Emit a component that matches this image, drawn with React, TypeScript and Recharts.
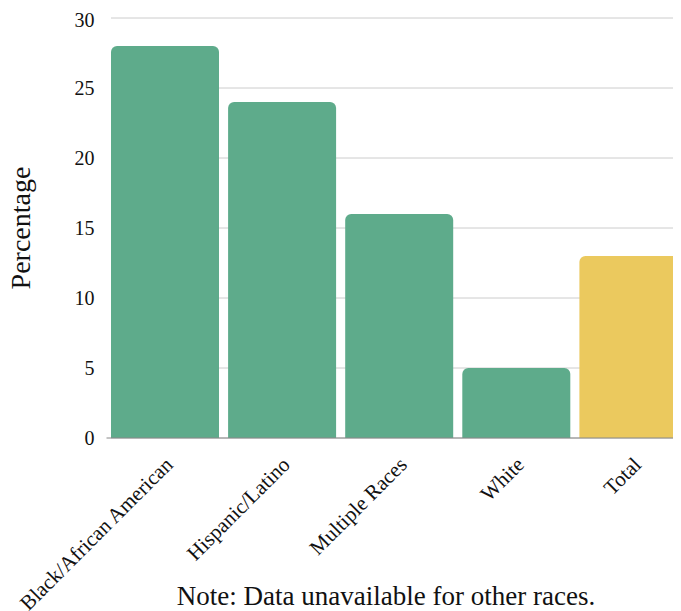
import { BarChart, Bar, XAxis, YAxis, CartesianGrid, Cell } from 'recharts';

const categories = ['Black/African American', 'Hispanic/Latino', 'Multiple Races', 'White', 'Total'];
const percentages = [28, 24, 16, 5, 13];
const yTicks = [0, 5, 10, 15, 20, 25, 30];

const data = categories.map((name, i) => ({ name, value: percentages[i] }));

const FONT = '"Liberation Serif", "DejaVu Serif", serif';
const GREEN = '#5eab8b';
const YELLOW = '#ebc95e';

function SlantTick(props: any) {
  const { x, y, payload } = props;
  const tx = x + 9;
  const ty = y + 20;
  return (
    <text
      x={tx}
      y={ty}
      transform={`rotate(-45 ${tx} ${ty})`}
      textAnchor="end"
      fill="#111"
      fontSize={21}
      fontFamily={FONT}
    >
      {payload.value}
    </text>
  );
}

export default function App() {
  return (
    <div style={{ position: 'relative', width: 673, height: 603, overflow: 'hidden' }}>
      <BarChart
        width={684}
        height={603}
        data={data}
        margin={{ top: 10, right: 0, bottom: 0, left: 0 }}
        barCategoryGap={4.5}
      >
        <CartesianGrid vertical={false} stroke="#cccccc" x={103} width={590} />
        <XAxis
          dataKey="name"
          interval={0}
          height={173}
          tickLine={false}
          axisLine={{ stroke: '#888' }}
          tick={<SlantTick />}
        />
        <YAxis
          domain={[0, 30]}
          ticks={yTicks}
          width={98.5}
          axisLine={false}
          tickLine={false}
          tickMargin={6}
          tick={{ fill: '#111', fontSize: 20, fontFamily: FONT }}
          label={{
            value: 'Percentage',
            angle: -90,
            position: 'insideLeft',
            offset: 12,
            style: { fill: '#111', fontSize: 28, fontFamily: FONT, textAnchor: 'middle' },
          }}
        />
        <Bar dataKey="value" radius={[6, 6, 0, 0]} isAnimationActive={false}>
          {data.map((d) => (
            <Cell key={d.name} fill={d.name === 'Total' ? YELLOW : GREEN} />
          ))}
        </Bar>
      </BarChart>
      <div
        style={{
          position: 'absolute',
          left: 0,
          width: 756,
          top: 573,
          textAlign: 'center',
          fontFamily: FONT,
          fontSize: 27,
          color: '#111',
          lineHeight: '30px',
        }}
      >
        Note: Data unavailable for other races.
      </div>
    </div>
  );
}
